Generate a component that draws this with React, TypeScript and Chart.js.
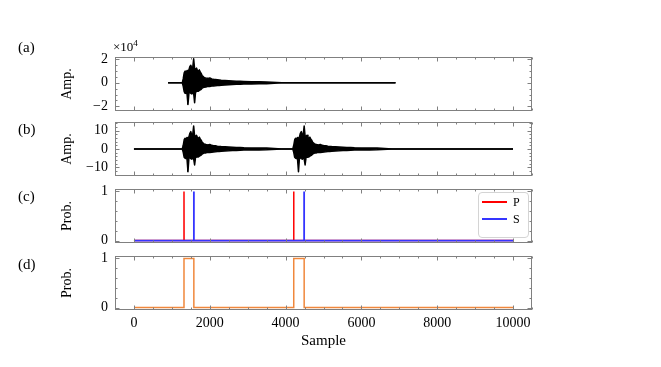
import React, { useEffect, useRef } from 'react';
import { Chart, registerables } from 'chart.js';

Chart.register(...registerables);

const FONT = "'Liberation Serif', 'DejaVu Serif', 'Times New Roman', serif";
const SPINE = '#808080';

// ---- x axis (samples) ----
const X_MIN = -500;
const X_MAX = 10500;
const xMajorTicks = [0, 2000, 4000, 6000, 8000, 10000];
const xMinorTicks = [-500, 500, 1000, 1500, 2500, 3000, 3500, 4500, 5000, 5500, 6500, 7000, 7500, 8500, 9000, 9500, 10500];

// ---- waveform envelope (offsets in samples after onset) ----
const envOffsets = [-25, 0, 25, 50, 75, 100, 125, 150, 175, 200, 225, 250, 275, 300, 325, 350, 375, 400, 425, 450, 475, 500, 525, 550,
  600, 650, 700, 750, 800, 850, 900, 950, 1000, 1100, 1200, 1300, 1400, 1500, 1600, 1800, 2000, 2200, 2600];

// (a) amplitude, units of 1e4
const aStart = 900;
const aEnd = 6900;
const aOnsets = [1300];
const aHi = [0, 0.35, 0.85, 1.0, 0.9, 1.05, 0.95, 1.1, 1.4, 1.5, 1.25, 1.3, 2.05, 1.2, 1.15, 1.25, 1.05, 1.0, 1.1, 0.9, 0.8, 0.6, 0.55, 0.45,
  0.4, 0.38, 0.42, 0.33, 0.3, 0.28, 0.26, 0.24, 0.22, 0.2, 0.18, 0.16, 0.14, 0.13, 0.12, 0.1, 0.09, 0.08, 0];
const aLo = [0, -0.3, -0.75, -0.9, -0.85, -0.95, -1.85, -0.9, -0.8, -0.9, -0.95, -0.85, -0.9, -1.7, -0.8, -0.75, -0.7, -0.72, -0.65, -0.6, -0.55, -0.45, -0.4, -0.38,
  -0.35, -0.3, -0.32, -0.28, -0.27, -0.25, -0.22, -0.22, -0.2, -0.18, -0.16, -0.14, -0.13, -0.12, -0.1, -0.09, -0.08, -0.07, 0];
const aYMajor = [-2, 0, 2];
const aYMinor = [-1.5, -1, -0.5, 0.5, 1, 1.5];

// (b) amplitude
const bStart = 0;
const bEnd = 10000;
const bOnsets = [1300, 4215];
const bHi = [0, 2.0, 5.0, 5.8, 5.5, 6.2, 5.6, 6.5, 8.5, 9.4, 7.5, 7.8, 12.4, 7.0, 6.8, 7.4, 6.2, 5.9, 6.4, 5.3, 4.7, 3.6, 3.2, 2.7,
  2.4, 2.2, 2.5, 2.0, 1.8, 1.7, 1.5, 1.4, 1.3, 1.2, 1.1, 1.0, 0.85, 0.8, 0.7, 0.6, 0.55, 0.5, 0];
const bLo = [0, -1.8, -4.5, -5.0, -5.2, -5.5, -12.3, -5.0, -4.8, -5.2, -5.5, -5.0, -5.3, -8.6, -4.6, -4.4, -4.2, -4.3, -3.9, -3.6, -3.3, -2.7, -2.4, -2.2,
  -2.1, -1.8, -1.9, -1.7, -1.6, -1.5, -1.3, -1.3, -1.2, -1.1, -1.0, -0.85, -0.8, -0.7, -0.6, -0.55, -0.5, -0.45, 0];
const bYMajor = [-10, 0, 10];
const bYMinor = [-14, -12, -8, -6, -4, -2, 2, 4, 6, 8, 12, 14];

// (c) phase probabilities
const pX = [0, 1318, 1320, 1322, 4213, 4215, 4217, 10000];
const pY = [0, 0, 1, 0, 0, 1, 0, 0];
const sX = [0, 1578, 1580, 1582, 4486, 4488, 4490, 10000];
const sY = [0, 0, 1, 0, 0, 1, 0, 0];

// (d) detection probability
const dX = [0, 1320, 1320, 1580, 1580, 4215, 4215, 4490, 4490, 10000];
const dY = [0, 0, 1, 1, 0, 0, 1, 1, 0, 0];

const probMajor = [0, 1];
const probMinor = [0.2, 0.4, 0.6, 0.8];

type Pt = { x: number; y: number };

function buildTrace(start: number, end: number, onsets: number[], hi: number[], lo: number[]) {
  const up: Pt[] = [{ x: start, y: 0 }];
  const dn: Pt[] = [{ x: start, y: 0 }];
  for (const on of onsets) {
    envOffsets.forEach((o, i) => {
      up.push({ x: on + o, y: hi[i] });
      dn.push({ x: on + o, y: lo[i] });
    });
  }
  up.push({ x: end, y: 0 });
  dn.push({ x: end, y: 0 });
  return [up, dn];
}

const zip = (xs: number[], ys: number[]) => xs.map((x, i) => ({ x, y: ys[i] }));

const fmt = (v: number) => (v < 0 ? '\u2212' + Math.abs(v) : String(v));

function framePlugin(yMajor: number[], yMinor: number[]) {
  return {
    id: 'frame',
    afterDatasetsDraw(chart: any) {
      const { ctx, chartArea } = chart;
      const xs = chart.scales.x;
      const ys = chart.scales.y;
      const L = Math.round(chartArea.left) + 0.5;
      const R = Math.round(chartArea.right) - 0.5;
      const T = Math.round(chartArea.top) + 0.5;
      const B = Math.round(chartArea.bottom) - 0.5;
      ctx.save();
      ctx.strokeStyle = SPINE;
      ctx.lineWidth = 1;
      ctx.strokeRect(L, T, R - L, B - T);
      ctx.beginPath();
      const xt = (v: number, len: number) => {
        const px = Math.round(xs.getPixelForValue(v)) + 0.5;
        ctx.moveTo(px, T); ctx.lineTo(px, T + len);
        ctx.moveTo(px, B); ctx.lineTo(px, B - len);
      };
      const yt = (v: number, len: number) => {
        const py = Math.round(ys.getPixelForValue(v)) + 0.5;
        ctx.moveTo(L, py); ctx.lineTo(L + len, py);
        ctx.moveTo(R, py); ctx.lineTo(R - len, py);
      };
      xMajorTicks.forEach((v) => xt(v, 4));
      xMinorTicks.forEach((v) => xt(v, 2));
      yMajor.forEach((v) => yt(v, 4));
      yMinor.forEach((v) => yt(v, 2));
      ctx.stroke();
      ctx.restore();
    },
  };
}

interface Panel {
  top: number;
  height: number;
  xAxis: boolean;
  yMin: number;
  yMax: number;
  yMajor: number[];
  yMinor: number[];
  yTitle: string;
  datasets: any[];
}

function traceDatasets(tr: Pt[][]) {
  const common = {
    borderColor: '#000',
    borderWidth: 1.5,
    pointRadius: 0,
    borderJoinStyle: 'round',
    tension: 0,
  };
  return [
    { ...common, data: tr[0], fill: '+1', backgroundColor: '#000' },
    { ...common, data: tr[1], fill: false },
  ];
}

const PAD = 10;
const PLOT_H = 54;

const panels: Panel[] = [
  {
    top: 57 - PAD, height: PLOT_H + 2 * PAD, xAxis: false, yMin: -2.4, yMax: 2.2, yMajor: aYMajor, yMinor: aYMinor, yTitle: 'Amp.',
    datasets: traceDatasets(buildTrace(aStart, aEnd, aOnsets, aHi, aLo)),
  },
  {
    top: 122 - PAD, height: PLOT_H + 2 * PAD, xAxis: false, yMin: -14.6, yMax: 14.6, yMajor: bYMajor, yMinor: bYMinor, yTitle: 'Amp.',
    datasets: traceDatasets(buildTrace(bStart, bEnd, bOnsets, bHi, bLo)),
  },
  {
    top: 189 - PAD, height: PLOT_H + 2 * PAD, xAxis: false, yMin: -0.05, yMax: 1.05, yMajor: probMajor, yMinor: probMinor, yTitle: 'Prob.',
    datasets: [
      { label: 'S', data: zip(sX, sY), borderColor: '#3535ff', borderWidth: 1.8, pointRadius: 0, fill: false },
      { label: 'P', data: zip(pX, pY), borderColor: '#ff0000', borderWidth: 1.5, pointRadius: 0, fill: false },
    ],
  },
  {
    top: 256 - PAD, height: 367 - 256 + PAD, xAxis: true, yMin: -0.05, yMax: 1.05, yMajor: probMajor, yMinor: probMinor, yTitle: 'Prob.',
    datasets: [
      { label: 'D', data: zip(dX, dY), borderColor: '#f0883c', borderWidth: 1.5, pointRadius: 0, fill: false },
    ],
  },
];

function makeChart(canvas: HTMLCanvasElement, p: Panel) {
  const xScale: any = {
    type: 'linear',
    min: X_MIN,
    max: X_MAX,
    display: p.xAxis,
    grid: { display: false, drawTicks: false },
    border: { display: false },
    afterBuildTicks: (s: any) => { s.ticks = xMajorTicks.map((v) => ({ value: v })); },
    ticks: {
      autoSkip: false, maxRotation: 0, padding: 5, color: '#000',
      font: { family: FONT, size: 14 }, callback: (v: any) => String(v),
    },
    title: {
      display: p.xAxis, text: 'Sample', color: '#000',
      font: { family: FONT, size: 15 }, padding: { top: 0, bottom: 17 },
    },
  };
  if (p.xAxis) {
    xScale.afterFit = (s: any) => {
      s.height = p.height - PAD - PLOT_H;
      s.paddingLeft = 0; s.paddingRight = 0; s.paddingTop = 0; s.paddingBottom = 0;
    };
  }
  return new Chart(canvas, {
    type: 'line',
    data: { datasets: p.datasets },
    options: {
      animation: false,
      responsive: false,
      devicePixelRatio: 1,
      events: [],
      layout: { padding: { left: 0, right: 129, top: PAD, bottom: p.xAxis ? 0 : PAD } },
      plugins: { legend: { display: false }, tooltip: { enabled: false } },
      elements: { point: { radius: 0 }, line: { tension: 0 } },
      scales: {
        x: xScale,
        y: {
          type: 'linear',
          min: p.yMin,
          max: p.yMax,
          position: 'left',
          grid: { display: false, drawTicks: false },
          border: { display: false },
          afterBuildTicks: (s: any) => { s.ticks = p.yMajor.map((v) => ({ value: v })); },
          afterFit: (s: any) => {
            s.width = 115;
            s.paddingTop = 0; s.paddingBottom = 0; s.paddingLeft = 0; s.paddingRight = 0;
          },
          ticks: { padding: 7, color: '#000', font: { family: FONT, size: 14 }, callback: (v: any) => fmt(Number(v)) },
          title: {
            display: true, text: p.yTitle, color: '#000',
            font: { family: FONT, size: 14 }, padding: { top: 59, bottom: 0 },
          },
        },
      },
    } as any,
    plugins: [framePlugin(p.yMajor, p.yMinor)],
  });
}

export default function App() {
  const refs = [useRef<HTMLCanvasElement>(null), useRef<HTMLCanvasElement>(null), useRef<HTMLCanvasElement>(null), useRef<HTMLCanvasElement>(null)];
  useEffect(() => {
    const charts = panels.map((p, i) => makeChart(refs[i].current as HTMLCanvasElement, p));
    return () => charts.forEach((c) => c.destroy());
  }, []);

  const label = (text: string, cy: number) => (
    <div style={{ position: 'absolute', left: 18, top: cy - 8, fontSize: 15, lineHeight: '16px', color: '#000' }}>{text}</div>
  );

  return (
    <div style={{ position: 'absolute', left: 0, top: 0, width: 661, height: 367, background: '#fff', overflow: 'hidden', fontFamily: FONT }}>
      {panels.map((p, i) => (
        <canvas
          key={i}
          ref={refs[i]}
          width={661}
          height={p.height}
          style={{ position: 'absolute', left: 0, top: p.top, width: 661, height: p.height }}
        />
      ))}
      {label('(a)', 47)}
      {label('(b)', 129)}
      {label('(c)', 196)}
      {label('(d)', 264)}
      <div style={{ position: 'absolute', left: 113, top: 40, fontSize: 13, lineHeight: '14px', color: '#000', whiteSpace: 'nowrap' }}>
        ×10<span style={{ fontSize: 9, position: 'relative', top: -5 }}>4</span>
      </div>
      <div style={{ position: 'absolute', left: 478, top: 192, width: 49, height: 44, border: '1px solid #d4d4d4', borderRadius: 4, background: 'rgba(255,255,255,0.85)' }}>
        <div style={{ position: 'absolute', left: 3, top: 8, width: 25, height: 2, background: '#ff0000' }} />
        <div style={{ position: 'absolute', left: 34, top: 2, fontSize: 12, lineHeight: '14px' }}>P</div>
        <div style={{ position: 'absolute', left: 3, top: 25, width: 25, height: 2, background: '#3535ff' }} />
        <div style={{ position: 'absolute', left: 34, top: 19, fontSize: 12, lineHeight: '14px' }}>S</div>
      </div>
    </div>
  );
}
